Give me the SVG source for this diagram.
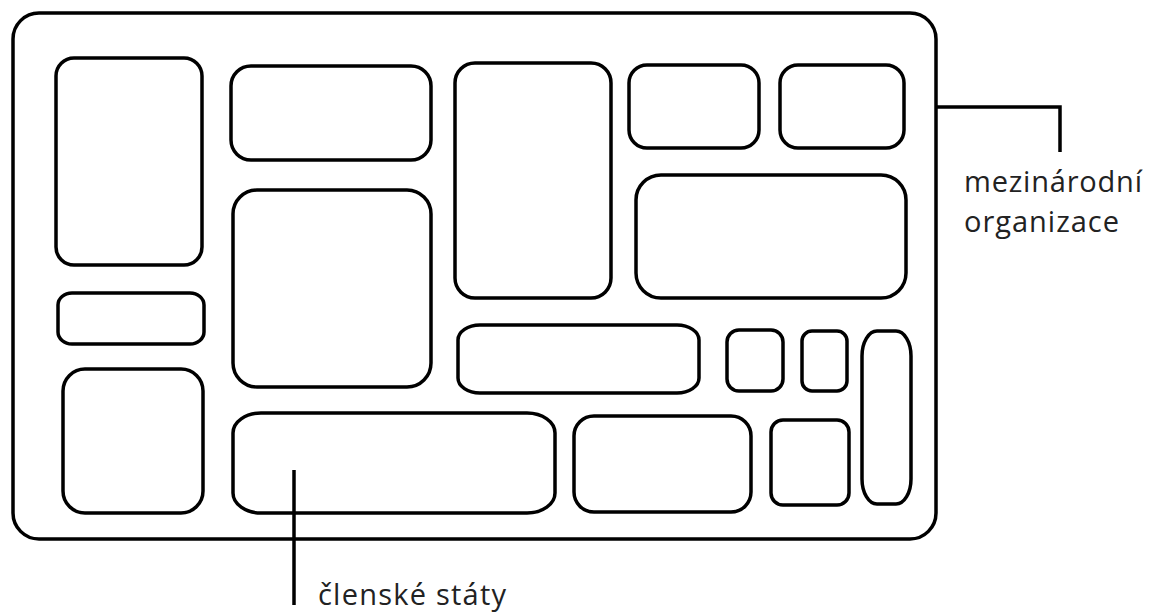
<svg xmlns="http://www.w3.org/2000/svg" width="1149" height="614" viewBox="0 0 1149 614">
<style>
.b{fill:none;stroke:#000;stroke-width:3.5}
.c{fill:none;stroke:#000;stroke-width:3.5}
.t{font-family:"Open Sans","Liberation Sans",sans-serif;font-size:29px;fill:#222}
</style>
<rect width="1149" height="614" fill="#fff"/>
<g id="outer"><rect class="b" x="13" y="13" width="923" height="526" rx="26"/></g>
<g id="n1"><rect class="b" x="56" y="58" width="146" height="207" rx="18"/></g>
<g id="n2"><rect class="b" x="58" y="293" width="146" height="51" rx="14" ry="12"/></g>
<g id="n3"><rect class="b" x="63" y="369" width="140" height="144" rx="22"/></g>
<g id="n4"><rect class="b" x="231" y="66" width="200" height="94" rx="20"/></g>
<g id="n5"><rect class="b" x="233" y="190" width="198" height="197" rx="24"/></g>
<g id="n6"><rect class="b" x="233" y="413" width="322" height="100" rx="28" ry="20"/></g>
<g id="n7"><rect class="b" x="455" y="63" width="156" height="235" rx="20"/></g>
<g id="n8"><rect class="b" x="458" y="325" width="241" height="68" rx="22" ry="15"/></g>
<g id="n9"><rect class="b" x="574" y="416" width="177" height="96" rx="20"/></g>
<g id="n10"><rect class="b" x="629" y="65" width="130" height="83" rx="18"/></g>
<g id="n11"><rect class="b" x="780" y="65" width="124" height="83" rx="18"/></g>
<g id="n12"><rect class="b" x="636" y="175" width="270" height="123" rx="25"/></g>
<g id="n13"><rect class="b" x="727" y="330" width="56" height="61" rx="12"/></g>
<g id="n14"><rect class="b" x="802" y="331" width="45" height="60" rx="10"/></g>
<g id="n15"><rect class="b" x="862" y="331" width="49" height="173" rx="15" ry="25"/></g>
<g id="n16"><rect class="b" x="771" y="420" width="78" height="85" rx="12"/></g>
<g id="connectors">
<polyline class="c" points="936,107 1060,107 1060,152"/>
<line class="c" x1="294" y1="470" x2="294" y2="605"/>
</g>
<g id="labels">
<text class="t" x="964" y="192" textLength="178" lengthAdjust="spacing">mezinárodní</text>
<text class="t" x="964" y="232" textLength="155" lengthAdjust="spacing">organizace</text>
<text class="t" x="318" y="605" font-size="27" textLength="188" lengthAdjust="spacing">členské státy</text>
</g>
</svg>
